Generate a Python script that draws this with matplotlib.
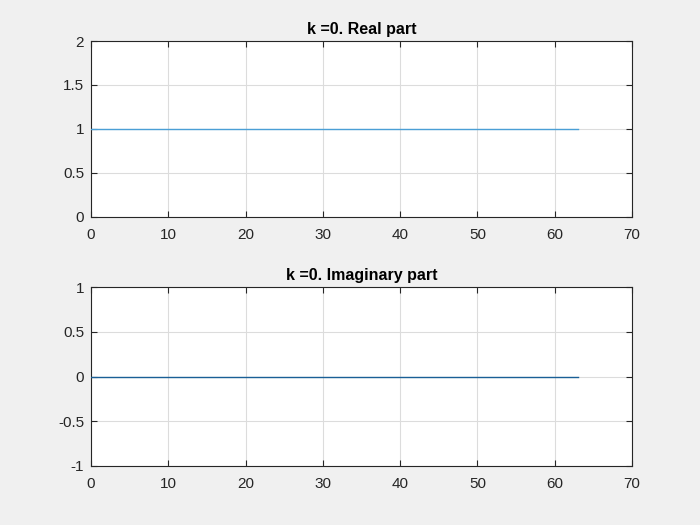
import numpy as np
import matplotlib
matplotlib.use("Agg")
import matplotlib.pyplot as plt

n = np.arange(0, 64)
real_part = [1.0] * 64
imag_part = [0.0] * 64
titles = ["k =0. Real part", "k =0. Imaginary part"]
ylims = [(0, 2), (-1, 1)]
yticks = [[0, 0.5, 1, 1.5, 2], [-1, -0.5, 0, 0.5, 1]]
yticklabels = [["0", "0.5", "1", "1.5", "2"], ["-1", "-0.5", "0", "0.5", "1"]]
xticks = [0, 10, 20, 30, 40, 50, 60, 70]

plt.rcParams['font.family'] = ['Liberation Sans', 'DejaVu Sans']
fig = plt.figure(figsize=(7, 5.25), dpi=100, facecolor='#f0f0f0')
positions = [[0.13, 0.5867, 0.7729, 0.3352], [0.13, 0.1124, 0.7729, 0.3409]]
series = [real_part, imag_part]
colors = ['#4a9fd6', '#1a5f96']
for i in range(2):
    ax = fig.add_axes(positions[i])
    ax.set_facecolor('white')
    ax.plot(n, series[i], color=colors[i], linewidth=1.0, zorder=3)
    ax.set_xlim(0, 70)
    ax.set_ylim(*ylims[i])
    ax.set_xticks(xticks)
    ax.set_xticklabels([str(x) for x in xticks])
    ax.set_yticks(yticks[i])
    ax.set_yticklabels(yticklabels[i])
    ax.grid(True, color='#dcdcdc', linewidth=0.8)
    ax.set_axisbelow(True)
    ax.tick_params(direction='in', top=True, right=True, length=4, width=0.8,
                   labelsize=11, colors='#262626', labelcolor='#262626')
    ax.tick_params(axis='x', pad=8)
    ax.tick_params(axis='y', pad=5)
    for s in ax.spines.values():
        s.set_color('#262626')
        s.set_linewidth(0.8)
    ax.set_title(titles[i], fontsize=11.5, fontweight='bold', color='black', pad=5)

fig.savefig('out.png', dpi=100, facecolor=fig.get_facecolor())
